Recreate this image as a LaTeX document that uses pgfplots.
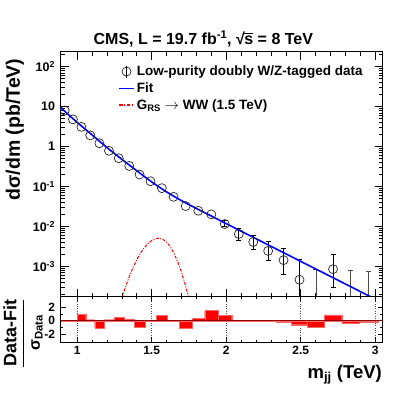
\documentclass[border=0pt]{standalone}
\usepackage{amsmath}
\usepackage{fontspec}
\setmainfont{Liberation Sans}
\usepackage{pgfplots}
\pgfplotsset{compat=1.18}

\newcommand{\fs}[1]{\fontsize{#1}{#1}\selectfont\bfseries}
\definecolor{zeroline}{RGB}{140,0,0}
\definecolor{sigred}{RGB}{255,0,0}

% data points without visible error bars (m in TeV, dsigma/dm in pb/TeV)
\pgfplotstableread{
x      y
0.917  8.0
0.972  4.8
1.029  3.12
1.088  1.91
1.1495 1.21
1.2135 0.786
1.2795 0.511
1.3495 0.328
1.419  0.200
1.4925 0.136
1.5685 0.0912
1.647  0.0553
1.7285 0.0325
1.813  0.0248
1.9005 0.0201
}\lowdata
% data points with error bars
\pgfplotstableread{
x      y         ep       em
1.9905 0.01153   0.0030   0.0016
2.0845 0.0065    0.0025   0.0021
2.1815 0.0041    0.0020   0.0014
2.2815 0.00245   0.0019   0.00105
2.385  0.00144   0.00135  0.0008
2.492  0.000463  0.00106  0.00046
2.717  0.000857  0.00117  0.00056
}\highdata
% empty bins: upper error only
\pgfplotstableread{
x      y       ep
2.6025 1e-6    0.00082
2.835  1e-6    0.00078
2.957  1e-6    0.000755
}\zerodata
% (Data-Fit)/sigma per bin, low edge
\pgfplotstableread{
x     r
0.890  0.05
0.944 -0.1
1.000  0.95
1.058  0.15
1.118 -1.1
1.181  0.15
1.246  0.45
1.313  0.25
1.383 -0.95
1.455  0.05
1.530  0.8
1.607 -0.1
1.687 -1.1
1.770  0.35
1.856  1.5
1.945  0.75
2.037  0.0
2.132  0.0
2.231 -0.1
2.332 -0.2
2.438 -0.6
2.546 -0.95
2.659  0.85
2.775 -0.35
2.895 -0.15
3.019 -0.15
}\resid

\pgfplotsset{
  cmsbox/.style={
    scale only axis, width=322pt,
    xmin=0.89, xmax=3.05,
    axis line style={line width=0.9pt},
    tick style={black, line width=0.6pt},
    tick align=inside,
  },
  fitimg/.style={legend image code/.code={\draw[blue, line width=1.6pt] (0pt,0pt) -- (15pt,0pt);}},
  sigimg/.style={legend image code/.code={%
    \pgfsetcolor{sigred}%
    \draw[color=sigred, line width=1.3pt, dash pattern=on 3.5pt off 1.5pt on 1.2pt off 1.5pt] (0pt,0pt) -- (15pt,0pt);}},
  dataimg/.style={legend image code/.code={
    \draw[black!85, line width=0.7pt] (7.5pt,0pt) circle (4.5pt);
    \draw[black, line width=0.8pt] (7.5pt,-6pt) -- (7.5pt,6pt);}},
}

\begin{document}
\begin{tikzpicture}
\path[use as bounding box] (0pt,0pt) rectangle (407pt,392pt);

\begin{axis}[cmsbox,
  at={(60.7pt,95.3pt)}, anchor=south west, height=245pt,
  ymode=log, ymin=1.75e-4, ymax=237,
  major tick length=8pt, minor tick length=4pt,
  xtick={1,1.5,2,2.5,3}, minor x tick num=4, xticklabels={,,,,},
  ytick={1e-3,1e-2,1e-1,1,10,100},
  yticklabels={10\textsuperscript{-3},10\textsuperscript{-2},10\textsuperscript{-1},1,10,10\textsuperscript{2}},
  minor ytick={2e-4,3e-4,4e-4,5e-4,6e-4,7e-4,8e-4,9e-4,
               2e-3,3e-3,4e-3,5e-3,6e-3,7e-3,8e-3,9e-3,
               2e-2,3e-2,4e-2,5e-2,6e-2,7e-2,8e-2,9e-2,
               0.2,0.3,0.4,0.5,0.6,0.7,0.8,0.9,
               2,3,4,5,6,7,8,9,20,30,40,50,60,70,80,90,200},
  yticklabel style={font=\fs{12.5}, inner sep=0pt, xshift=-5.5pt},
  title={CMS, L = 19.7 fb\textsuperscript{-1}, √\kern-0.5pt$\overline{\mbox{s}}$ = 8 TeV},
  title style={font=\fs{16}, at={(0.443,1)}, anchor=base, yshift=1pt, inner sep=0pt},
  legend cell align=left,
  legend style={draw=none, fill=none, font=\fs{13.5}, at={(0.178,0.951)}, anchor=north west,
    row sep=1.5pt, inner sep=0pt},
]
\addplot[only marks, mark=o, mark size=4.5pt, mark options={draw=black!85, line width=0.7pt}, dataimg]
  table[x=x, y=y] {\lowdata};
\addlegendentry{Low-purity doubly W/Z-tagged data}

\addplot[forget plot, only marks, mark=o, mark size=4.5pt, mark options={draw=black!85, line width=0.7pt},
  error bars/.cd, y dir=both, y explicit,
  error bar style={black, line width=0.8pt},
  error mark options={rotate=90, mark size=2.5pt, black, line width=0.8pt}]
  table[x=x, y=y, y error plus=ep, y error minus=em] {\highdata};

\addplot[forget plot, draw=none, mark=none,
  error bars/.cd, y dir=plus, y explicit,
  error bar style={draw=black!70, line width=0.8pt},
  error mark options={rotate=90, mark size=2.5pt, draw=black!70, line width=0.8pt}]
  table[x=x, y=y, y error plus=ep] {\zerodata};

\addplot[blue, line width=1.6pt, smooth, fitimg]
  coordinates {(0.89,9.44) (1.0,4.05) (1.1,1.97) (1.2,0.948) (1.3,0.481) (1.4,0.249)
    (1.5,0.131) (1.6,0.0736) (1.7,0.0444) (1.8,0.0283) (1.9,0.0183) (2.0,0.0118)
    (2.2,0.00495) (2.4,0.00207) (2.6,0.000869) (2.8,0.000364) (3.0,0.000152) (3.05,0.000123)};
\addlegendentry{Fit}

\addplot[color=sigred, line width=1pt, dash pattern=on 3pt off 1.5pt on 1pt off 1.5pt, sigimg]
  coordinates {(1.25,3.47e-5) (1.275,7.7e-5) (1.30,1.59e-4) (1.325,3.07e-4) (1.35,5.54e-4)
    (1.375,9.31e-4) (1.40,1.461e-3) (1.425,2.14e-3) (1.45,2.92e-3) (1.475,3.72e-3)
    (1.50,4.42e-3) (1.525,4.91e-3) (1.55,5.08e-3) (1.575,4.81e-3) (1.60,4.09e-3)
    (1.625,3.12e-3) (1.65,2.14e-3) (1.675,1.31e-3) (1.70,7.24e-4) (1.725,3.58e-4)
    (1.75,1.59e-4) (1.775,6.35e-5) (1.80,2.27e-5)};
\addlegendentry{G\textsubscript{RS} $\rightarrow$ WW (1.5 TeV)}
\end{axis}

\begin{axis}[cmsbox,
  at={(60.7pt,49.7pt)}, anchor=south west, height=45.6pt,
  ymin=-3.2, ymax=3.55,
  major tick length=5pt, minor tick length=2.5pt,
  xtick={1,1.5,2,2.5,3}, xticklabels={1,1.5,2,2.5,3}, minor x tick num=4,
  ytick={-2,0,2}, yticklabels={-2,0,2}, minor y tick num=1,
  xmajorgrids, grid style={black!70, dotted, line width=0.6pt},
  xticklabel style={font=\fs{12}, anchor=base, yshift=-11.7pt, inner sep=0pt},
  yticklabel style={font=\fs{12}, inner sep=0pt, xshift=-5.5pt},
]
\addplot[ybar interval, fill=red, draw=red!60, line width=0.3pt] table[x=x, y=r] {\resid};
\addplot[zeroline, line width=0.9pt] coordinates {(0.89,0) (3.05,0)};
\end{axis}

\node[rotate=90, anchor=base east, font=\fs{19.5}] at (20pt,337pt) {dσ/dm (pb/TeV)};
\node[rotate=90, inner sep=0pt, font=\fs{18}] at (23pt,59pt)
  {$\genfrac{}{}{1.2pt}{0}{\mbox{\fs{18}Data-Fit}}{\mbox{\fs{16}σ\textsubscript{Data}}}$};
\node[anchor=base east, font=\fs{18.5}, inner sep=0pt] at (382pt,14pt) {m\textsubscript{jj} (TeV)};
\end{tikzpicture}
\end{document}
